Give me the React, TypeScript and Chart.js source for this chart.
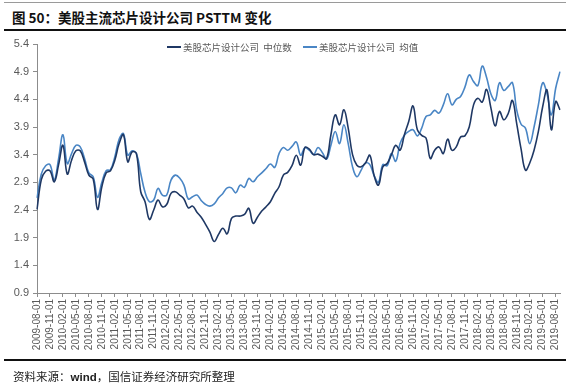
import React, { useEffect, useRef } from "react";
import { Chart, registerables } from "chart.js";

Chart.register(...registerables);

const months: string[] = [
  "2009-08-01", "2009-09-01", "2009-10-01", "2009-11-01", "2009-12-01",
  "2010-01-01", "2010-02-01", "2010-03-01", "2010-04-01", "2010-05-01", "2010-06-01", "2010-07-01", "2010-08-01", "2010-09-01", "2010-10-01", "2010-11-01", "2010-12-01",
  "2011-01-01", "2011-02-01", "2011-03-01", "2011-04-01", "2011-05-01", "2011-06-01", "2011-07-01", "2011-08-01", "2011-09-01", "2011-10-01", "2011-11-01", "2011-12-01",
  "2012-01-01", "2012-02-01", "2012-03-01", "2012-04-01", "2012-05-01", "2012-06-01", "2012-07-01", "2012-08-01", "2012-09-01", "2012-10-01", "2012-11-01", "2012-12-01",
  "2013-01-01", "2013-02-01", "2013-03-01", "2013-04-01", "2013-05-01", "2013-06-01", "2013-07-01", "2013-08-01", "2013-09-01", "2013-10-01", "2013-11-01", "2013-12-01",
  "2014-01-01", "2014-02-01", "2014-03-01", "2014-04-01", "2014-05-01", "2014-06-01", "2014-07-01", "2014-08-01", "2014-09-01", "2014-10-01", "2014-11-01", "2014-12-01",
  "2015-01-01", "2015-02-01", "2015-03-01", "2015-04-01", "2015-05-01", "2015-06-01", "2015-07-01", "2015-08-01", "2015-09-01", "2015-10-01", "2015-11-01", "2015-12-01",
  "2016-01-01", "2016-02-01", "2016-03-01", "2016-04-01", "2016-05-01", "2016-06-01", "2016-07-01", "2016-08-01", "2016-09-01", "2016-10-01", "2016-11-01", "2016-12-01",
  "2017-01-01", "2017-02-01", "2017-03-01", "2017-04-01", "2017-05-01", "2017-06-01", "2017-07-01", "2017-08-01", "2017-09-01", "2017-10-01", "2017-11-01", "2017-12-01",
  "2018-01-01", "2018-02-01", "2018-03-01", "2018-04-01", "2018-05-01", "2018-06-01", "2018-07-01", "2018-08-01", "2018-09-01", "2018-10-01", "2018-11-01", "2018-12-01",
  "2019-01-01", "2019-02-01", "2019-03-01", "2019-04-01", "2019-05-01", "2019-06-01", "2019-07-01", "2019-08-01", "2019-09-01",
];

const medianPS: number[] = [
  2.41, 2.95, 3.10, 3.11, 2.91, 3.22, 3.57, 3.05, 3.30, 3.47,
  3.47, 3.27, 3.03, 2.96, 2.41, 2.82, 3.07, 3.11, 3.30, 3.60,
  3.76, 3.27, 3.45, 3.42, 2.73, 2.55, 2.23, 2.40, 2.58, 2.46,
  2.50, 2.70, 2.73, 2.67, 2.60, 2.44, 2.47, 2.36, 2.27, 2.14,
  2.00, 1.83, 1.96, 2.07, 1.97, 2.25, 2.29, 2.29, 2.32, 2.43,
  2.16, 2.27, 2.38, 2.46, 2.55, 2.70, 2.82, 3.03, 3.08, 3.20,
  3.39, 3.21, 3.53, 3.50, 3.40, 3.41, 3.37, 3.33, 3.76, 4.12,
  3.94, 4.21, 3.88, 3.40, 3.21, 3.18, 3.25, 3.39, 3.02, 2.85,
  3.18, 3.24, 3.40, 3.57, 3.48, 3.76, 4.00, 4.28, 3.85, 3.75,
  3.70, 3.33, 3.48, 3.54, 3.42, 3.68, 3.48, 3.54, 3.72, 3.74,
  3.90, 4.30, 4.42, 4.35, 4.58, 4.25, 3.92, 4.18, 4.03, 4.14,
  4.38, 3.95, 3.50, 3.12, 3.25, 3.48, 3.82, 4.27, 4.57, 3.85,
  4.36, 4.21,
];

const meanPS: number[] = [
  2.62, 3.05, 3.20, 3.22, 2.94, 3.33, 3.76, 3.24, 3.42, 3.57,
  3.54, 3.33, 3.07, 3.00, 2.63, 2.90, 3.11, 3.13, 3.36, 3.68,
  3.78, 3.39, 3.47, 3.42, 3.06, 2.72, 2.55, 2.58, 2.79, 2.67,
  2.67, 2.94, 3.03, 2.98, 2.85, 2.60, 2.64, 2.67, 2.57, 2.50,
  2.47, 2.51, 2.62, 2.70, 2.80, 2.80, 2.71, 2.85, 2.81, 2.97,
  2.91, 3.00, 3.07, 3.15, 3.23, 3.17, 3.42, 3.53, 3.48, 3.55,
  3.63, 3.39, 3.53, 3.48, 3.40, 3.53, 3.44, 3.32, 3.57, 3.82,
  3.60, 3.94, 3.60, 3.18, 3.00, 3.12, 3.25, 3.22, 3.02, 2.90,
  3.22, 3.20, 3.42, 3.28, 3.60, 3.75, 3.82, 3.85, 3.74, 3.88,
  4.09, 4.12, 4.20, 4.15, 4.30, 4.50, 4.30, 4.40, 4.45, 4.62,
  4.84, 4.72, 4.65, 5.00, 4.80, 4.50, 4.38, 4.70, 4.56, 4.63,
  4.70, 4.20, 3.95, 3.88, 3.60, 3.90, 4.30, 4.70, 4.50, 4.12,
  4.60, 4.90,
];

const yTicks: number[] = [0.9, 1.4, 1.9, 2.4, 2.9, 3.4, 3.9, 4.4, 4.9, 5.4];

const seriesNames: string[] = ["美股芯片设计公司  中位数", "美股芯片设计公司  均值"];

const DARK = "#1f3864";
const LIGHT = "#4a86c5";
const AXIS = "#8c8c8c";
const TICK = "#595959";

export default function App() {
  const ref = useRef<HTMLCanvasElement>(null);

  useEffect(() => {
    if (!ref.current) return;
    const chart = new Chart(ref.current, {
      type: "line",
      data: {
        labels: months,
        datasets: [
          {
            label: seriesNames[0],
            data: medianPS,
            borderColor: DARK,
            backgroundColor: DARK,
            borderWidth: 1.6,
            pointRadius: 0,
            tension: 0.4,
            fill: false,
          },
          {
            label: seriesNames[1],
            data: meanPS,
            borderColor: LIGHT,
            backgroundColor: LIGHT,
            borderWidth: 1.6,
            pointRadius: 0,
            tension: 0.4,
            fill: false,
          },
        ],
      },
      options: {
        responsive: false,
        animation: false,
        layout: { padding: { top: 14, right: 14, left: 0, bottom: 0 } },
        plugins: { legend: { display: false }, tooltip: { enabled: false } },
        scales: {
          x: {
            type: "category",
            offset: false,
            grid: {
              drawOnChartArea: false,
              drawTicks: true,
              tickLength: 4,
              color: (c: any) => (c.index % 3 === 0 ? AXIS : "rgba(0,0,0,0)"),
            },
            border: { color: AXIS, width: 1 },
            ticks: {
              autoSkip: false,
              maxRotation: 90,
              minRotation: 90,
              padding: 2,
              color: TICK,
              font: { family: "'Liberation Sans', Arial, sans-serif", size: 10 },
              callback: (_v: any, i: number) => (i % 3 === 0 ? months[i] : ""),
            },
            afterFit: (s: any) => {
              s.height = 67;
            },
          },
          y: {
            min: 0.9,
            max: 5.4,
            afterBuildTicks: (s: any) => {
              s.ticks = yTicks.map((v) => ({ value: v }));
            },
            grid: { drawOnChartArea: false, drawTicks: true, tickLength: 4, color: AXIS },
            border: { color: AXIS, width: 1 },
            ticks: {
              color: TICK,
              padding: 4,
              font: { family: "'Liberation Sans', Arial, sans-serif", size: 11 },
              callback: (v: any) => Number(v).toFixed(1),
            },
            afterFit: (s: any) => {
              s.width = 37;
            },
          },
        },
      },
    });
    return () => chart.destroy();
  }, []);

  const legendItem = (color: string, text: string, left: number) => (
    <div
      style={{
        position: "absolute",
        left,
        top: 40,
        display: "flex",
        alignItems: "center",
        whiteSpace: "pre",
        fontFamily: "'Noto Sans CJK SC', sans-serif",
        fontSize: 9.5,
        color: TICK,
        lineHeight: "14px",
      }}
    >
      <span style={{ display: "inline-block", width: 14, height: 2, background: color, marginRight: 2 }} />
      <span>{text}</span>
    </div>
  );

  return (
    <div
      style={{
        position: "absolute",
        left: 0,
        top: 0,
        width: 574,
        height: 384,
        background: "#fff",
        overflow: "hidden",
      }}
    >
      <div style={{ position: "absolute", left: 4, top: 2, width: 562, height: 1, background: "#9a9a9a" }} />
      <div
        style={{
          position: "absolute",
          left: 12,
          top: 7,
          fontFamily: "'Noto Sans CJK SC', sans-serif",
          fontWeight: 700,
          fontSize: 13.5,
          lineHeight: "20px",
          color: "#111",
          whiteSpace: "pre",
        }}
      >
        图 50：美股主流芯片设计公司 PSTTM 变化
      </div>
      <div style={{ position: "absolute", left: 4, top: 29, width: 562, height: 1.5, background: "#111" }} />
      <canvas
        ref={ref}
        width={574}
        height={330}
        style={{ position: "absolute", left: 0, top: 30, width: 574, height: 330 }}
      />
      {legendItem(DARK, seriesNames[0], 167)}
      {legendItem(LIGHT, seriesNames[1], 303)}
      <div style={{ position: "absolute", left: 4, top: 359, width: 562, height: 1.5, background: "#111" }} />
      <div
        style={{
          position: "absolute",
          left: 13,
          top: 367,
          fontFamily: "'Noto Sans CJK SC', sans-serif",
          fontSize: 11.5,
          lineHeight: "18px",
          color: "#222",
          whiteSpace: "pre",
        }}
      >
        资料来源：<span style={{ fontFamily: "'Liberation Sans', Arial, sans-serif", fontWeight: 700 }}>wind</span>，国信证券经济研究所整理
      </div>
    </div>
  );
}
